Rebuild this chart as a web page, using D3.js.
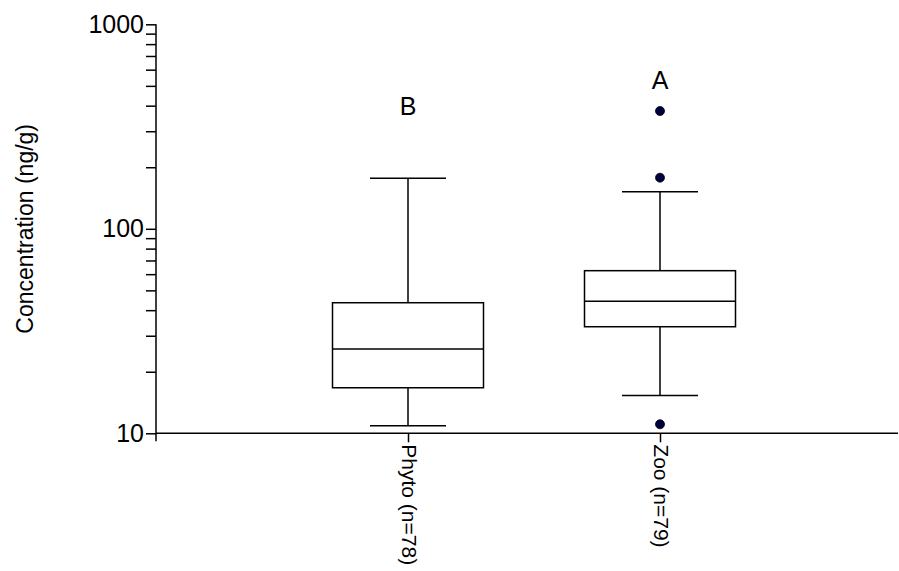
<!DOCTYPE html>
<html>
<head>
<meta charset="utf-8">
<script src="https://cdn.jsdelivr.net/npm/d3@7/dist/d3.min.js"></script>
<style>
  html, body { margin: 0; padding: 0; background: #fff; }
  svg { display: block; font-family: "Liberation Sans", Arial, sans-serif; }
</style>
</head>
<body>
<svg id="chart" width="899" height="571"></svg>
<script>
// Groups and their box-plot summaries (ng/g)
const categories = ["Phyto (n=78)", "Zoo (n=79)"];
const whiskerLow = [10.9, 15.3];
const q1 = [16.7, 33.2];
const median = [25.8, 44.2];
const q3 = [43.5, 62.4];
const whiskerHigh = [176.6, 151.8];
// Individual outlying samples per group
const outliers = [[], [376.7, 177.8, 11.07]];
// Significance letters and the concentration level they sit at
const letters = ["B", "A"];
const letterAt = [360, 483];
// Labelled y ticks
const yTickLabels = [10, 100, 1000];

(function drawChart() {
  const svg = d3.select("#chart");
  const plotLeft = 156, plotRight = 898, plotTop = 24.3, plotBottom = 433.3;

  const y = d3.scaleLog().domain([10, 1000]).range([plotBottom, plotTop]);
  const x = d3.scalePoint().domain(categories).range([408, 660]);

  const boxW = 151, capW = 76;
  const stroke = "#000";
  const font = "'Liberation Sans', Arial, sans-serif";

  // Y axis: decade labels plus unlabelled minor ticks
  const minorTicks = [];
  [10, 100].forEach(d => { for (let k = 1; k <= 9; k++) minorTicks.push(d * k); });
  minorTicks.push(1000);

  const yAxis = d3.axisLeft(y)
    .tickValues(minorTicks)
    .tickSize(10)
    .tickPadding(2)
    .tickFormat(d => yTickLabels.includes(d) ? String(d) : "");

  const gy = svg.append("g").attr("transform", `translate(${plotLeft},0)`).call(yAxis);
  gy.select(".domain").remove();
  gy.selectAll(".tick line").attr("stroke", stroke).attr("stroke-width", 1.5);
  gy.selectAll(".tick text").attr("font-size", 25).attr("fill", "#000").attr("font-family", font);

  svg.append("line")
    .attr("x1", plotLeft).attr("x2", plotLeft)
    .attr("y1", plotTop).attr("y2", plotBottom + 8)
    .attr("stroke", stroke).attr("stroke-width", 1.5);

  // X axis
  svg.append("line")
    .attr("x1", plotLeft).attr("x2", plotRight)
    .attr("y1", plotBottom).attr("y2", plotBottom)
    .attr("stroke", stroke).attr("stroke-width", 1.5);

  const xAxis = d3.axisBottom(x).tickSize(9).tickPadding(0);
  const gx = svg.append("g").attr("transform", `translate(0,${plotBottom})`).call(xAxis);
  gx.select(".domain").remove();
  gx.selectAll(".tick line").attr("stroke", stroke).attr("stroke-width", 1.5);
  gx.selectAll(".tick text")
    .attr("font-size", 21).attr("fill", "#000").attr("font-family", font)
    .attr("transform", "rotate(90)")
    .attr("text-anchor", "start")
    .attr("x", 11).attr("y", 0).attr("dy", "0.32em");

  // Y axis title
  svg.append("text")
    .attr("transform", `translate(33,${(plotTop + plotBottom) / 2}) rotate(-90)`)
    .attr("text-anchor", "middle")
    .attr("font-size", 23)
    .text("Concentration (ng/g)");

  // Boxes
  const groups = svg.append("g").selectAll("g").data(categories).join("g")
    .attr("transform", d => `translate(${x(d)},0)`);

  groups.each(function(d, i) {
    const g = d3.select(this);
    const line = (x1, x2, y1, y2) => g.append("line")
      .attr("x1", x1).attr("x2", x2).attr("y1", y1).attr("y2", y2)
      .attr("stroke", stroke).attr("stroke-width", 1.5);
    // whiskers
    line(0, 0, y(whiskerHigh[i]), y(q3[i]));
    line(0, 0, y(q1[i]), y(whiskerLow[i]));
    line(-capW / 2, capW / 2, y(whiskerHigh[i]), y(whiskerHigh[i]));
    line(-capW / 2, capW / 2, y(whiskerLow[i]), y(whiskerLow[i]));
    // box
    g.append("rect")
      .attr("x", -boxW / 2).attr("width", boxW)
      .attr("y", y(q3[i])).attr("height", y(q1[i]) - y(q3[i]))
      .attr("fill", "none").attr("stroke", stroke).attr("stroke-width", 1.5);
    line(-boxW / 2, boxW / 2, y(median[i]), y(median[i]));
    // outliers
    g.selectAll("circle").data(outliers[i]).join("circle")
      .attr("cx", 0).attr("cy", v => y(v)).attr("r", 4.5)
      .attr("fill", "#000040").attr("stroke", "#000").attr("stroke-width", 0.8);
    // letter
    g.append("text")
      .attr("x", 0).attr("y", y(letterAt[i]))
      .attr("text-anchor", "middle")
      .attr("font-size", 25)
      .text(letters[i]);
  });
})();
</script>
</body>
</html>
